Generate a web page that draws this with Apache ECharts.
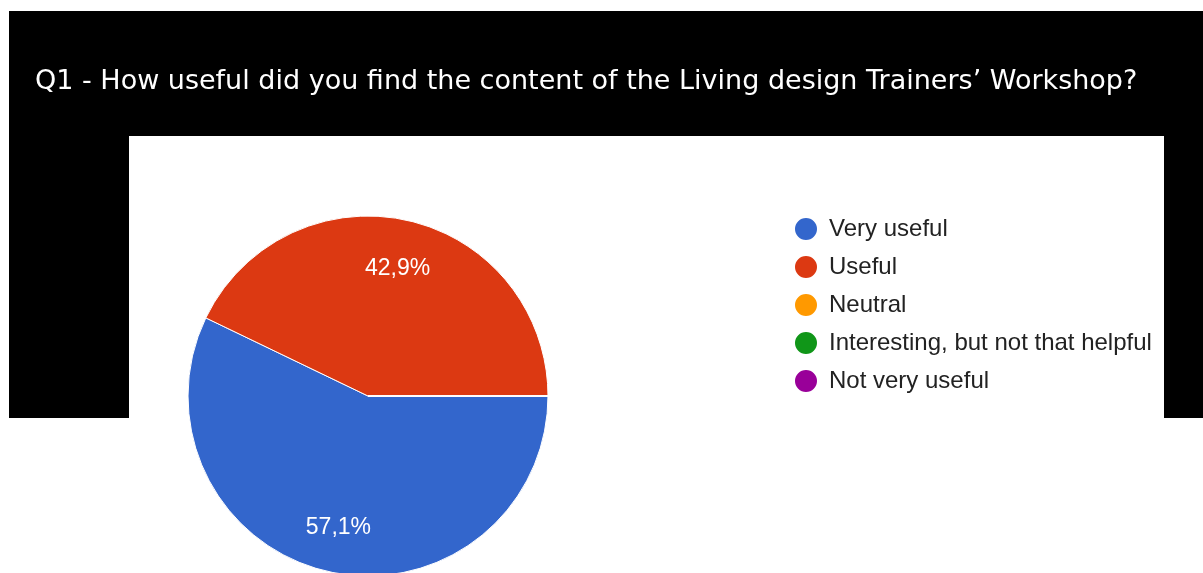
<!DOCTYPE html>
<html>
<head>
<meta charset="utf-8">
<script src="https://cdn.jsdelivr.net/npm/echarts@6/dist/echarts.min.js"></script>
<style>
  html, body { margin: 0; padding: 0; background: #ffffff; }
  #chart { width: 1203px; height: 573px; }
</style>
</head>
<body>
<div id="chart"></div>
<script>
// Survey answers for Q1 (number of respondents per answer)
const categories = [
  'Very useful',
  'Useful',
  'Neutral',
  'Interesting, but not that helpful',
  'Not very useful'
];
const responses = [4, 3, 0, 0, 0];
const sliceColors = ['#3366cc', '#dc3912', '#ff9900', '#109618', '#990099'];
const questionTitle = 'Q1 - How useful did you find the content of the Living design Trainers\u2019 Workshop?';

const pieData = categories.map((name, i) => ({ value: responses[i], name: name }));

// percentage with a decimal comma, hidden for empty answers
const pctLabel = p => (p.value > 0 ? p.percent.toFixed(1).replace('.', ',') + '%' : '');

const chart = echarts.init(document.getElementById('chart'), null, { renderer: 'canvas' });

chart.setOption({
  backgroundColor: '#ffffff',
  animation: false,
  color: sliceColors,
  graphic: [
    { type: 'rect', z: -10, shape: { x: 9, y: 11, width: 1194, height: 407 }, style: { fill: '#000000' }, silent: true },
    { type: 'rect', z: -9, shape: { x: 129, y: 136, width: 1035, height: 437 }, style: { fill: '#ffffff' }, silent: true }
  ],
  title: {
    text: questionTitle,
    left: 35,
    top: 68,
    padding: 0,
    textStyle: {
      color: '#ffffff',
      fontFamily: '"DejaVu Sans", sans-serif',
      fontWeight: 'normal',
      fontSize: 27
    }
  },
  legend: {
    orient: 'vertical',
    left: 793,
    top: 216,
    padding: 0,
    icon: 'circle',
    itemWidth: 24,
    itemHeight: 24,
    itemGap: 12,
    data: categories,
    textStyle: {
      color: '#222222',
      fontFamily: 'Arial, "Liberation Sans", sans-serif',
      fontSize: 24,
      lineHeight: 24,
      padding: [0, 0, 0, 6]
    }
  },
  series: [
    {
      name: 'Q1',
      type: 'pie',
      center: [368, 396],
      radius: [0, 180],
      startAngle: 0,
      clockwise: true,
      label: { show: false },
      labelLine: { show: false },
      itemStyle: { borderColor: '#ffffff', borderWidth: 1 },
      data: pieData
    },
    {
      // ring used only to place the percentage labels further out
      name: 'Q1 labels',
      type: 'pie',
      silent: true,
      center: [368, 396],
      radius: [80, 180],
      startAngle: 0,
      clockwise: true,
      itemStyle: { color: 'rgba(0,0,0,0)' },
      labelLine: { show: false },
      label: {
        show: true,
        position: 'inside',
        offset: [0, 2],
        formatter: pctLabel,
        color: '#ffffff',
        fontFamily: 'Arial, "Liberation Sans", sans-serif',
        fontSize: 23,
        textBorderWidth: 0
      },
      data: pieData
    }
  ]
});
</script>
</body>
</html>
